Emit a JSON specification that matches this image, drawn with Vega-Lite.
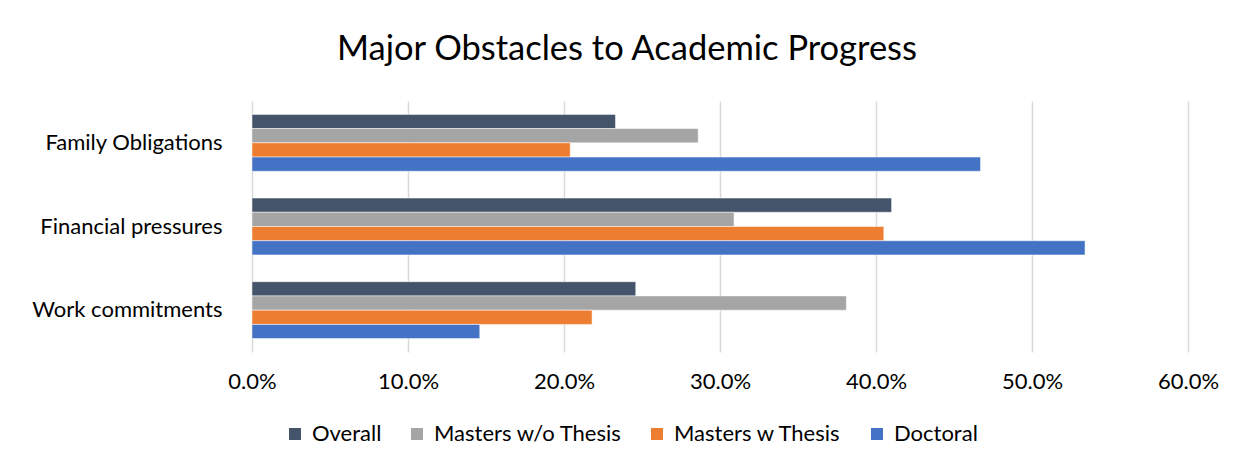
{
  "$schema": "https://vega.github.io/schema/vega-lite/v6.json",
  "autosize": "none",
  "width": 936,
  "height": 251,
  "padding": {"left": 252, "top": 101, "right": 71, "bottom": 124},
  "background": "white",
  "title": {
    "text": "Major Obstacles to Academic Progress",
    "font": "Lato",
    "fontSize": 34.5,
    "fontWeight": "normal",
    "color": "#000000",
    "anchor": "middle",
    "frame": "group",
    "dx": -93,
    "baseline": "bottom",
    "offset": 0
  },
  "config": {
    "view": {"stroke": null},
    "font": "Lato"
  },
  "data": {
    "values": [
      {"category": "Family Obligations", "series": "Overall", "value": 0.233},
      {"category": "Family Obligations", "series": "Masters w/o Thesis", "value": 0.286},
      {"category": "Family Obligations", "series": "Masters w Thesis", "value": 0.204},
      {"category": "Family Obligations", "series": "Doctoral", "value": 0.467},
      {"category": "Financial pressures", "series": "Overall", "value": 0.410},
      {"category": "Financial pressures", "series": "Masters w/o Thesis", "value": 0.309},
      {"category": "Financial pressures", "series": "Masters w Thesis", "value": 0.405},
      {"category": "Financial pressures", "series": "Doctoral", "value": 0.534},
      {"category": "Work commitments", "series": "Overall", "value": 0.246},
      {"category": "Work commitments", "series": "Masters w/o Thesis", "value": 0.381},
      {"category": "Work commitments", "series": "Masters w Thesis", "value": 0.218},
      {"category": "Work commitments", "series": "Doctoral", "value": 0.146}
    ]
  },
  "mark": {"type": "bar", "stroke": "white", "strokeWidth": 0.5},
  "encoding": {
    "y": {
      "field": "category",
      "type": "nominal",
      "sort": ["Family Obligations", "Financial pressures", "Work commitments"],
      "scale": {"paddingInner": 0.32, "paddingOuter": 0.16},
      "axis": {
        "title": null,
        "ticks": false,
        "domain": false,
        "labelFontSize": 22,
        "labelColor": "#000000",
        "labelPadding": 30,
        "labelLimit": 300
      }
    },
    "yOffset": {
      "field": "series",
      "type": "nominal",
      "sort": ["Overall", "Masters w/o Thesis", "Masters w Thesis", "Doctoral"],
      "scale": {"paddingInner": 0, "paddingOuter": 0}
    },
    "x": {
      "field": "value",
      "type": "quantitative",
      "scale": {"domain": [0, 0.6], "nice": false},
      "axis": {
        "title": null,
        "format": ".1%",
        "values": [0, 0.1, 0.2, 0.3, 0.4, 0.5, 0.6],
        "domain": false,
        "ticks": false,
        "grid": true,
        "gridColor": "#D9D9D9",
        "gridWidth": 1.5,
        "labelFontSize": 22,
        "labelColor": "#000000",
        "labelPadding": 19,
        "labelFlush": false
      }
    },
    "color": {
      "field": "series",
      "type": "nominal",
      "sort": ["Overall", "Masters w/o Thesis", "Masters w Thesis", "Doctoral"],
      "scale": {
        "domain": ["Overall", "Masters w/o Thesis", "Masters w Thesis", "Doctoral"],
        "range": ["#44546A", "#A5A5A5", "#ED7D31", "#4472C4"]
      },
      "legend": {
        "title": null,
        "orient": "none",
        "direction": "horizontal",
        "legendX": 32,
        "legendY": 322,
        "symbolType": "square",
        "symbolSize": 144,
        "symbolStrokeWidth": 0,
        "labelFontSize": 22,
        "labelColor": "#000000",
        "labelOffset": 6,
        "labelLimit": 300,
        "columnPadding": 24
      }
    }
  }
}
